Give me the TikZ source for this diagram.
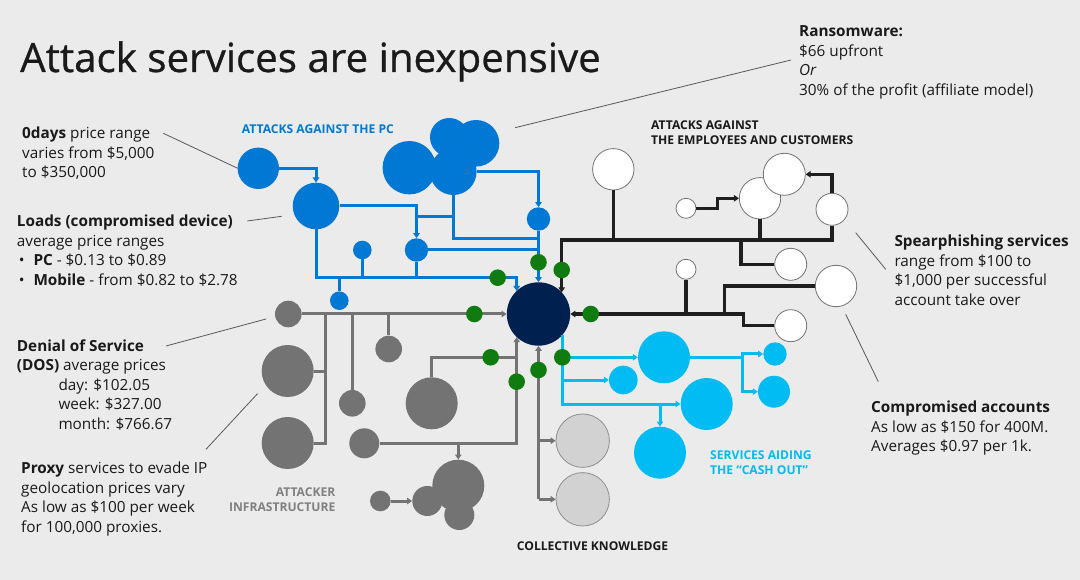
\documentclass[tikz,border=0pt]{standalone}
\usepackage{fontspec}
\setmainfont{Open Sans}
\newfontfamily\titlef[FakeBold=0.7]{Open Sans}
\usetikzlibrary{arrows.meta}
\definecolor{bgc}{HTML}{EBEBEB}
\definecolor{msblue}{HTML}{0078D4}
\definecolor{mscyan}{HTML}{00BCF2}
\definecolor{navy}{HTML}{002050}
\definecolor{msgreen}{HTML}{107C10}
\definecolor{msgrey}{HTML}{737373}
\definecolor{msdark}{HTML}{1F1F1F}
\definecolor{lgrey}{HTML}{D2D2D2}
\definecolor{txt}{HTML}{1A1A1A}
\definecolor{lbgrey}{HTML}{808080}
\newcommand\bodyf{\fontsize{15.3}{19.5}\selectfont}
\newcommand\labf{\fontsize{12.1}{15}\selectfont\bfseries}
\begin{document}
\begin{tikzpicture}[x=1pt,y=-1pt,
  tip/.style={-{Triangle[length=5pt,width=6.5pt]}},
  bub/.style={circle,inner sep=0pt,minimum size=2*#1pt},
  bn/.style={bub=#1,fill=msblue},
  wn/.style={bub=#1,fill=white,draw=msgrey,line width=0.8pt},
  gn/.style={bub=#1,fill=msgrey},
  ln/.style={bub=#1,fill=lgrey,draw=msgrey!80,line width=0.8pt},
  cn/.style={bub=#1,fill=mscyan},
  gd/.style={bub=8.3,fill=msgreen},
  bl/.style={draw=msblue,line width=3pt},
  bk/.style={draw=msdark,line width=3.2pt},
  gr/.style={draw=msgrey,line width=3pt},
  cy/.style={draw=mscyan,line width=3pt},
  lead/.style={draw=black!65,line width=0.8pt},
  body/.style={inner sep=0pt,anchor=north west,align=left,text=txt,font=\bodyf},
  lab/.style={inner sep=0pt,font=\labf},
]
\fill[bgc] (0,0) rectangle (1080,580);
\useasboundingbox (0,0) rectangle (1080,580);

% ---------- nodes ----------
\node[bub=31.7,fill=navy] (C) at (538.5,314) {};
% blue
\node[bn=20.7] (B1) at (258.3,168.3) {};
\node[bn=23.3] (B2) at (316,206) {};
\node[bn=26.7] (B3) at (409.3,167.7) {};
\node[bn=19.3] (Bt1) at (449.3,137.3) {};
\node[bn=23.3] (Bt2) at (476,143.3) {};
\node[bn=23.3] (Bm) at (453.3,171.7) {};
\node[bn=11.7] (B5) at (538.5,219) {};
\node[bn=11.7] (B6) at (416.5,250) {};
\node[bn=9.3] (B7) at (362.3,250) {};
\node[bn=9.3] (B8) at (339.3,300.7) {};
% white
\node[wn=20.7] (W1) at (613.3,169.3) {};
\node[wn=10] (W2) at (686,208.3) {};
\node[wn=20.7] (W3) at (760,198.3) {};
\node[wn=21] (W4) at (784.3,174.3) {};
\node[wn=16] (W5) at (832,209.3) {};
\node[wn=16] (W6) at (790.7,264.3) {};
\node[wn=10] (W7) at (686,269.3) {};
\node[wn=20.7] (W8) at (836,286) {};
\node[wn=16] (W9) at (790.7,325.7) {};
% grey
\node[gn=13.3] (G1) at (288.3,314) {};
\node[gn=26] (G2) at (287.7,371) {};
\node[gn=26] (G3) at (287.7,443) {};
\node[gn=13.3] (G4) at (388.7,349) {};
\node[gn=13.3] (G5) at (352.3,403.3) {};
\node[gn=26] (G6) at (431.7,403.3) {};
\node[gn=15] (G7) at (364.3,443.3) {};
\node[gn=26] (G8) at (458.3,485.7) {};
\node[gn=15] (G9) at (427.3,501) {};
\node[gn=15] (G10) at (459.3,515) {};
\node[gn=10.3] (G11) at (380.3,501) {};
% light grey
\node[ln=26.7] (L1) at (582.7,440.7) {};
\node[ln=26.7] (L2) at (582.7,499.3) {};
% cyan
\node[cn=26] (C1) at (664,357.3) {};
\node[cn=14.3] (C2) at (623.3,380) {};
\node[cn=26] (C3) at (706.7,404) {};
\node[cn=26] (C4) at (660,452.7) {};
\node[cn=11.7] (C5) at (775,354) {};
\node[cn=16] (C6) at (774,391.7) {};

% ---------- blue connectors ----------
\draw[bl,tip] (B1.east) -| (B2.north);
\draw[bl,tip] (B2.east) -| (B6.north);
\draw[bl] (416.5,216.7) -- (453.3,216.7);
\draw[bl] (Bm.south) |- (538.5,238.3);
\draw[bl,tip] (Bm.east) -| (B5.north);
\draw[bl] (B6.east) -- (538.5,250);
\draw[bl,tip] (B5.south) -- (C.north);
\draw[bl,tip] (B2.south) |- (516.7,277.7) -- (516.7,291);
\draw[bl] (B7.south) -- (362.3,277.7);
\draw[bl] (B6.south) -- (416.5,277.7);
\draw[bl] (339.3,277.7) -- (B8.north);

% ---------- black connectors ----------
\draw[bk,tip] (W5.south) |- (561.7,240) -- (561.7,292.4);
\draw[bk] (W1.south) -- (613.3,240);
\draw[bk] (W3.south) -- (760,240);
\draw[bk] (741,240) |- (W6.west);
\draw[bk,tip] (W2.east) -- (717.3,208.3) |- (W3.west);
\draw[bk,tip] (W5.north) |- (W4.east);
\draw[bk,tip] (W9.west) -| (743.3,314) -- (C.east);
\draw[bk] (W8.west) -| (724.3,314);
\draw[bk] (W7.south) -- (686,314);

% ---------- grey connectors ----------
\draw[gr,tip] (G1.east) -- (C.west);
\draw[gr] (325,314) |- (G3.east);
\draw[gr] (325,371) -- (G2.east);
\draw[gr] (352.3,314) -- (G5.north);
\draw[gr] (388.7,314) -- (G4.north);
\draw[gr] (G6.north) |- (516.7,357.3);
\draw[gr,tip] (G7.east) -| (516.7,337.2);
\draw[gr,tip] (458.3,443.3) -- (G8.north);
\draw[gr,tip] (G11.east) -- (G9.west);
\draw[gr,tip] (538.5,499.3) -- (C.south);
\draw[gr,tip] (538.5,440.7) -- (L1.west);
\draw[gr,tip] (538.5,499.3) -- (L2.west);

% ---------- cyan connectors ----------
\draw[cy,tip] (562.3,334.9) |- (C3.west);
\draw[cy,tip] (562.3,357.3) -- (C1.west);
\draw[cy,tip] (562.3,380) -- (C2.west);
\draw[cy,tip] (660,404) -- (C4.north);
\draw[cy] (C1.east) -- (742.7,357.3);
\draw[cy,tip] (742.7,357.3) |- (C5.west);
\draw[cy,tip] (742.7,357.3) |- (C6.west);

% ---------- green dots ----------
\node[gd] (d1) at (538.5,262.3) {};
\node[gd] (d2) at (561.7,270) {};
\node[gd] (d3) at (497.7,277.7) {};
\node[gd] (d4) at (474.3,314) {};
\node[gd] (d5) at (590.7,314) {};
\node[gd] (d6) at (490.7,357.3) {};
\node[gd] (d7) at (516.7,381.7) {};
\node[gd] (d8) at (538.5,370) {};
\node[gd] (d9) at (562.3,357.3) {};

% ---------- leader lines ----------
\draw[lead] (163.3,133.3) -- (237.7,168.3);
\draw[lead] (247.3,221) -- (281.7,216.3);
\draw[lead] (515,127.7) -- (791,60);
\draw[lead] (166,346) -- (266,319);
\draw[lead] (206,449.3) -- (257.5,393.7);
\draw[lead] (855.7,232.7) -- (885.7,269.3);
\draw[lead] (845.7,314.3) -- (878.3,381.7);

% ---------- texts ----------
\node[inner sep=0pt,anchor=base west,text=txt,font=\titlef\fontsize{40.3}{48}\selectfont] (title) at (20,72) {Attack services are inexpensive};

\node[body] (t0days) at (22,126.5) {\rule{0pt}{12pt}\textbf{0days} price range\\varies from \$5,000\\to \$350,000};
\node[body] (tloads) at (16.7,214.7) {\rule{0pt}{12pt}\textbf{Loads (compromised device)}\\average price ranges\\\makebox[16.6pt][l]{\hspace{2pt}•}\textbf{PC} - \$0.13 to \$0.89\\\makebox[16.6pt][l]{\hspace{2pt}•}\textbf{Mobile} - from \$0.82 to \$2.78};
\node[body] (tdos) at (16.7,339) {\rule{0pt}{12pt}\textbf{Denial of Service}\\\textbf{(DOS)} average prices\\\hspace*{41.6pt}day: \$102.05\\\hspace*{41.6pt}week: \$327.00\\\hspace*{41.6pt}month: \$766.67};
\node[body] (tproxy) at (21,461.3) {\rule{0pt}{12pt}\textbf{Proxy} services to evade IP\\geolocation prices vary\\As low as \$100 per week\\for 100,000 proxies.};
\node[body] (transom) at (799,24.7) {\rule{0pt}{12pt}\textbf{Ransomware:}\\\$66 upfront\\\textit{Or}\\30\% of the profit (affiliate model)};
\node[body] (tspear) at (894.3,234.7) {\rule{0pt}{12pt}\textbf{Spearphishing services}\\range from \$100 to\\\$1,000 per successful\\account take over};
\node[body] (tcomp) at (871,400.3) {\rule{0pt}{12pt}\textbf{Compromised accounts}\\As low as \$150 for 400M.\\Averages \$0.97 per 1k.};

\node[lab,anchor=base west,text=msblue] (lpc) at (241.7,133.3) {ATTACKS AGAINST THE PC};
\node[lab,anchor=north west,align=left,text=txt] (lemp) at (651,120.3) {\rule{0pt}{9pt}ATTACKS AGAINST\\THE EMPLOYEES AND CUSTOMERS};
\node[lab,anchor=north west,align=left,text=mscyan] (lcash) at (710,450) {\rule{0pt}{9pt}SERVICES AIDING\\THE “CASH OUT”};
\node[lab,anchor=north east,align=right,text=lbgrey] (latt) at (335.5,487.7) {\rule{0pt}{9pt}ATTACKER\\INFRASTRUCTURE};
\node[lab,anchor=base west,text=txt] (lcoll) at (516.7,550.7) {COLLECTIVE KNOWLEDGE};
\end{tikzpicture}
\end{document}
